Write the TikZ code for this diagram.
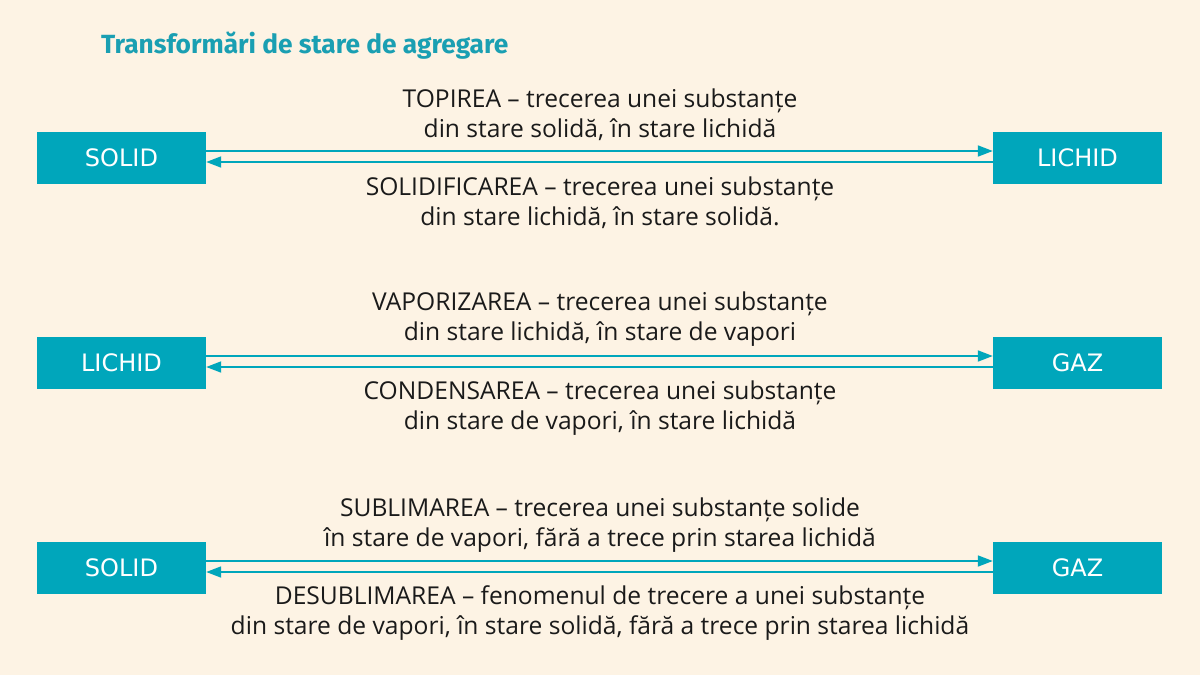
\documentclass[tikz,border=0pt]{standalone}
\usepackage{fontspec}
\setmainfont{Open Sans}
\newfontfamily\boxfont{DejaVu Sans}
\newfontfamily\titlefont{Fira Sans}
\usetikzlibrary{arrows.meta}
\definecolor{bg}{HTML}{FDF3E4}
\definecolor{teal}{HTML}{00A6BB}
\definecolor{titlec}{HTML}{1A9FB2}
\definecolor{txt}{HTML}{1A1A1A}
\begin{document}
\begin{tikzpicture}[x=1pt,y=-1pt,
  statebox/.style={fill=teal,draw=none,minimum width=169pt,minimum height=52pt,inner sep=0pt,text=white,font=\boxfont\fontsize{24}{28}\selectfont},
  label/.style={text=txt,align=center,font=\fontsize{24.6}{30}\selectfont,inner sep=0pt},
  conn/.style={draw=teal,line width=1.8pt,-{Triangle[length=15pt,width=11pt]}}
]
\useasboundingbox (0,0) rectangle (1200,675);
\fill[bg] (0,0) rectangle (1200,675);
\node[anchor=west,text=titlec,font=\titlefont\bfseries\fontsize{26.3}{30}\selectfont,inner sep=0pt] (title) at (101,46) {Transformări de stare de agregare};

% row 1
\node[statebox] (s1) at (121.5,157.5) {SOLID};
\node[statebox] (l1) at (1077.5,157.5) {LICHID};
\draw[conn] ([yshift=6.5pt]s1.east) -- ([yshift=6.5pt]l1.west);
\draw[conn] ([yshift=-4.5pt]l1.west) -- ([yshift=-4.5pt]s1.east);
\node[label] (t1) at (600,115) {TOPIREA – trecerea unei substanțe\\din stare solidă, în stare lichidă};
\node[label] (t2) at (600,203) {SOLIDIFICAREA – trecerea unei substanțe\\din stare lichidă, în stare solidă.};

% row 2
\node[statebox] (l2) at (121.5,362.5) {LICHID};
\node[statebox] (g2) at (1077.5,362.5) {GAZ};
\draw[conn] ([yshift=6.5pt]l2.east) -- ([yshift=6.5pt]g2.west);
\draw[conn] ([yshift=-4.5pt]g2.west) -- ([yshift=-4.5pt]l2.east);
\node[label] (t3) at (600,319.5) {VAPORIZAREA – trecerea unei substanțe\\din stare lichidă, în stare de vapori};
\node[label] (t4) at (600,408.5) {CONDENSAREA – trecerea unei substanțe\\din stare de vapori, în stare lichidă};

% row 3
\node[statebox] (s3) at (121.5,567.5) {SOLID};
\node[statebox] (g3) at (1077.5,567.5) {GAZ};
\draw[conn] ([yshift=6.5pt]s3.east) -- ([yshift=6.5pt]g3.west);
\draw[conn] ([yshift=-4.5pt]g3.west) -- ([yshift=-4.5pt]s3.east);
\node[label] (t5) at (600,525.5) {SUBLIMAREA – trecerea unei substanțe solide\\în stare de vapori, fără a trece prin starea lichidă};
\node[label] (t6) at (600,613.5) {DESUBLIMAREA – fenomenul de trecere a unei substanțe\\din stare de vapori, în stare solidă, fără a trece prin starea lichidă};
\end{tikzpicture}
\end{document}
